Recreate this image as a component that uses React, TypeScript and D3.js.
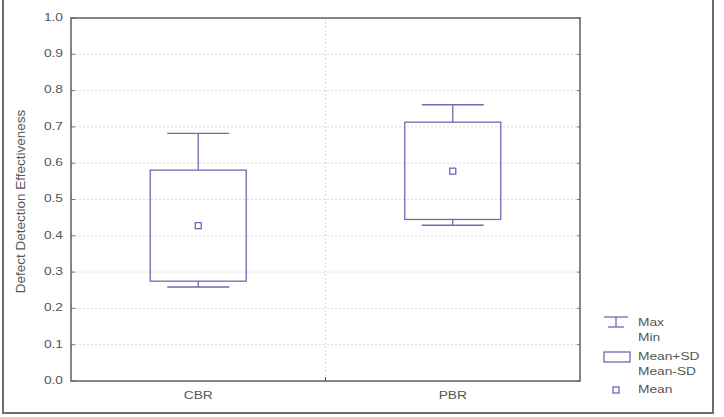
import React from "react";
import * as d3 from "d3";

const categories = ["CBR", "PBR"];
const maxValues = [0.682, 0.761];
const meanPlusSD = [0.581, 0.713];
const meanValues = [0.428, 0.578];
const meanMinusSD = [0.275, 0.445];
const minValues = [0.259, 0.429];
const yTicks = [0, 0.1, 0.2, 0.3, 0.4, 0.5, 0.6, 0.7, 0.8, 0.9, 1.0];
const legendItems = [["Max", "Min"], ["Mean+SD", "Mean-SD"], ["Mean"]];

const W = 724, H = 417;
const left = 71, right = 580, top = 18, bottom = 381;
const boxColor = "#6c6cb4";
const textColor = "#555";
const font = "Arial, 'Liberation Sans', sans-serif";

function SText({ x, y, anchor = "start", children, size = 11 }: any) {
  return (
    <g transform={`translate(${x},${y}) scale(1.25,1)`}>
      <text x={0} y={0} textAnchor={anchor} fontSize={size} fill={textColor} fontFamily={font} dominantBaseline="middle">
        {children}
      </text>
    </g>
  );
}

export default function App() {
  const y = d3.scaleLinear().domain([0, 1]).range([bottom, top]);
  const x = d3.scaleBand().domain(categories).range([left, right]);
  const boxW = 96;
  const capW = 62;
  const midX = (left + right) / 2;

  return (
    <svg width={W} height={H} style={{ position: "absolute", left: 0, top: 0, background: "#fff" }}>
      <rect x={0} y={0} width={W} height={H} fill="#fff" />
      {/* outer frame */}
      <path d={`M3,0 V413 H713 V0`} fill="none" stroke="#6e6e6e" strokeWidth={2} />
      {/* grid */}
      {yTicks.slice(1, -1).map((t) => (
        <line key={t} x1={left} x2={right} y1={y(t)} y2={y(t)} stroke="#dadada" strokeDasharray="2,2" strokeWidth={1} />
      ))}
      <line x1={midX} x2={midX} y1={top} y2={bottom} stroke="#dadada" strokeDasharray="2,2" strokeWidth={1} />
      {/* ticks */}
      {yTicks.map((t) => (
        <g key={"t" + t}>
          <line x1={left} x2={left + 4} y1={y(t)} y2={y(t)} stroke="#777" strokeWidth={1} />
          <line x1={right} x2={right - 3} y1={y(t)} y2={y(t)} stroke="#777" strokeWidth={1} />
          <SText x={63} y={y(t)} anchor="end">{t.toFixed(1)}</SText>
        </g>
      ))}
      <line x1={midX} x2={midX} y1={bottom} y2={bottom - 4} stroke="#555" strokeWidth={1} />
      {/* plot frame */}
      <rect x={left} y={top} width={right - left} height={bottom - top} fill="none" stroke="#5e5e5e" strokeWidth={1.5} />
      {/* boxes */}
      {categories.map((c, i) => {
        const cx = (x(c) as number) + x.bandwidth() / 2;
        return (
          <g key={c} stroke={boxColor} strokeWidth={1.3} fill="none">
            <line x1={cx} x2={cx} y1={y(maxValues[i])} y2={y(meanPlusSD[i])} />
            <line x1={cx} x2={cx} y1={y(meanMinusSD[i])} y2={y(minValues[i])} />
            <line x1={cx - capW / 2} x2={cx + capW / 2} y1={y(maxValues[i])} y2={y(maxValues[i])} />
            <line x1={cx - capW / 2} x2={cx + capW / 2} y1={y(minValues[i])} y2={y(minValues[i])} />
            <rect x={cx - boxW / 2} y={y(meanPlusSD[i])} width={boxW} height={y(meanMinusSD[i]) - y(meanPlusSD[i])} />
            <rect x={cx - 3} y={y(meanValues[i]) - 3} width={6} height={6} />
          </g>
        );
      })}
      {/* category labels */}
      {categories.map((c) => (
        <SText key={"l" + c} x={(x(c) as number) + x.bandwidth() / 2} y={396} anchor="middle">{c}</SText>
      ))}
      {/* y label */}
      <text transform={`translate(21,${(top + bottom) / 2 + 2}) rotate(-90)`} textAnchor="middle" dominantBaseline="middle" fontSize={13.5} fill={textColor} fontFamily={font}>
        Defect Detection Effectiveness
      </text>
      {/* legend */}
      <g stroke={boxColor} strokeWidth={1.3} fill="none">
        <line x1={604} x2={628} y1={317} y2={317} />
        <line x1={608} x2={624} y1={327} y2={327} />
        <line x1={616} x2={616} y1={317} y2={327} />
        <rect x={604} y={352} width={26} height={10} />
        <rect x={613} y={387} width={6} height={6} />
      </g>
      <SText x={638} y={323}>{legendItems[0][0]}</SText>
      <SText x={638} y={338}>{legendItems[0][1]}</SText>
      <SText x={638} y={357}>{legendItems[1][0]}</SText>
      <SText x={638} y={372}>{legendItems[1][1]}</SText>
      <SText x={638} y={390}>{legendItems[2][0]}</SText>
    </svg>
  );
}
